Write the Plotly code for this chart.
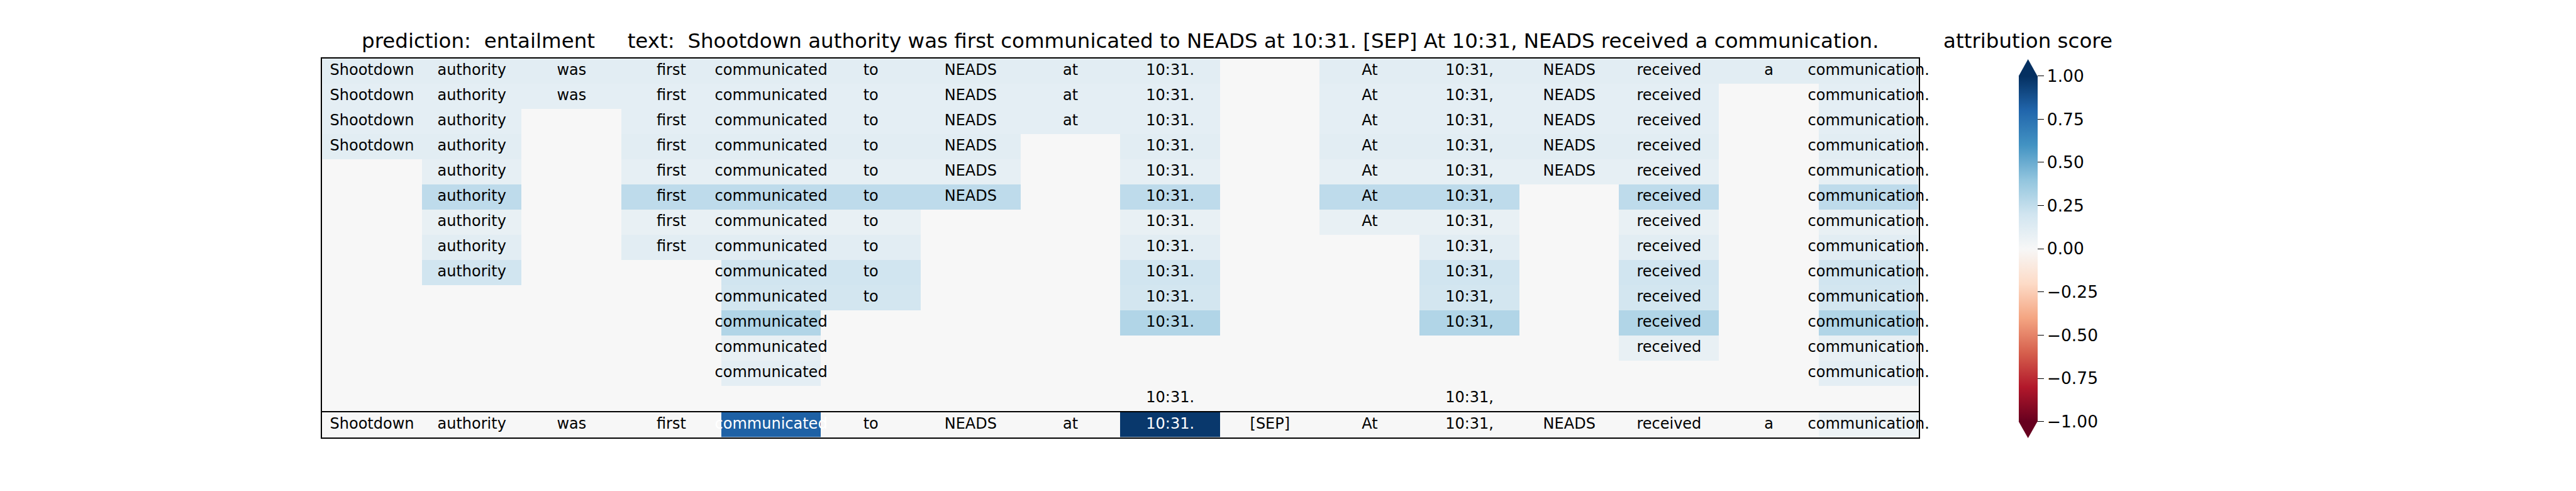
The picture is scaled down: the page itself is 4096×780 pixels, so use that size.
import plotly.graph_objects as go
from plotly.colors import diverging

# ---------------- data ----------------
tokens = ["Shootdown", "authority", "was", "first", "communicated", "to", "NEADS", "at",
          "10:31.", "[SEP]", "At", "10:31,", "NEADS", "received", "a", "communication."]

# tokens kept in each perturbation row (indices into tokens)
row_tokens = [
    [0, 1, 2, 3, 4, 5, 6, 7, 8, 10, 11, 12, 13, 14, 15],
    [0, 1, 2, 3, 4, 5, 6, 7, 8, 10, 11, 12, 13, 15],
    [0, 1, 3, 4, 5, 6, 7, 8, 10, 11, 12, 13, 15],
    [0, 1, 3, 4, 5, 6, 8, 10, 11, 12, 13, 15],
    [1, 3, 4, 5, 6, 8, 10, 11, 12, 13, 15],
    [1, 3, 4, 5, 6, 8, 10, 11, 13, 15],
    [1, 3, 4, 5, 8, 10, 11, 13, 15],
    [1, 3, 4, 5, 8, 11, 13, 15],
    [1, 4, 5, 8, 11, 13, 15],
    [4, 5, 8, 11, 13, 15],
    [4, 8, 11, 13, 15],
    [4, 13, 15],
    [4, 15],
    [8, 11],
]
row_scores = [0.11, 0.10, 0.10, 0.11, 0.09, 0.26, 0.08, 0.11, 0.20, 0.19, 0.30, 0.08, 0.10, 0.0]

token_scores = [0.0, 0.0, 0.0, 0.0, 0.82, 0.0, 0.0, 0.0, 0.97, 0.0, 0.0, 0.0, 0.0, 0.0, 0.0, 0.06]

prediction = "entailment"
cbar_ticks = [1.0, 0.75, 0.5, 0.25, 0.0, -0.25, -0.5, -0.75, -1.0]

# ---------------- layout geometry (output px) ----------------
W, H = 4096, 780
LEFT, RIGHT = 512.2, 3050.5
TOP_T, TOP_B = 93.3, 652.9
BOT_T, BOT_B = 654.6, 694.5
CB_L, CB_W = 3209.7, 30.0
CB_T, CB_B = 120.9, 669.5
CB_TIP_T, CB_TIP_B = 94.0, 696.0

FONT = "DejaVu Sans"
CELL_FS = 24
TICK_FS = 26.5
TITLE_FS = 32.5

def fx(x):
    return x / W

def fy(y):
    return 1 - y / H

cscale = diverging.RdBu
nrows = len(row_tokens)
ncols = len(tokens)

z_top = []
for r, keep in enumerate(row_tokens):
    z_top.append([row_scores[r] if c in keep else 0.0 for c in range(ncols)])

fig = go.Figure()

fig.add_trace(go.Heatmap(
    z=z_top, x=list(range(ncols)), y=list(range(nrows)),
    colorscale=cscale, zmin=-1, zmax=1, xaxis="x", yaxis="y",
    showscale=True, hoverinfo="skip",
    colorbar=dict(
        x=fx(CB_L), xanchor="left", xpad=0, ypad=0,
        y=fy((CB_T + CB_B) / 2), yanchor="middle",
        len=(CB_B - CB_T) / H, lenmode="fraction",
        thickness=CB_W, thicknessmode="pixels",
        outlinewidth=0,
        tickvals=cbar_ticks,
        ticktext=[("\u2212" if v < 0 else "") + f"{abs(v):.2f}" for v in cbar_ticks],
        ticks="outside", ticklen=10, tickwidth=1.3, tickcolor="black",
        tickfont=dict(family=FONT, size=TICK_FS, color="black"),
    ),
))

fig.add_trace(go.Heatmap(
    z=[token_scores], x=list(range(ncols)), y=[0],
    colorscale=cscale, zmin=-1, zmax=1, xaxis="x2", yaxis="y2",
    showscale=False, hoverinfo="skip",
))

# cell texts
tx, ty, tt = [], [], []
for r, keep in enumerate(row_tokens):
    for c in keep:
        tx.append(c)
        ty.append(r)
        tt.append(tokens[c])
fig.add_trace(go.Scatter(
    x=tx, y=ty, text=tt, mode="text", textposition="middle center",
    textfont=dict(family=FONT, size=CELL_FS, color="black"),
    xaxis="x", yaxis="y", cliponaxis=False, hoverinfo="skip", showlegend=False,
))
fig.add_trace(go.Scatter(
    x=list(range(ncols)), y=[0] * ncols, text=tokens, mode="text",
    textposition="middle center",
    textfont=dict(family=FONT, size=CELL_FS,
                  color=["white" if abs(v) > 0.5 else "black" for v in token_scores]),
    xaxis="x2", yaxis="y2", cliponaxis=False, hoverinfo="skip", showlegend=False,
))

axis_common = dict(showticklabels=False, ticks="", showgrid=False, zeroline=False,
                   showline=True, mirror=True, linecolor="black", linewidth=2)

fig.update_layout(
    width=W, height=H,
    margin=dict(l=0, r=0, t=0, b=0),
    paper_bgcolor="white", plot_bgcolor="white",
    showlegend=False,
    xaxis=dict(domain=[fx(LEFT), fx(RIGHT)], range=[-0.5, ncols - 0.5], anchor="y", **axis_common),
    yaxis=dict(domain=[fy(TOP_B), fy(TOP_T)], range=[nrows - 0.5, -0.5], anchor="x", **axis_common),
    xaxis2=dict(domain=[fx(LEFT), fx(RIGHT)], range=[-0.5, ncols - 0.5], anchor="y2", **axis_common),
    yaxis2=dict(domain=[fy(BOT_B), fy(BOT_T)], range=[0.5, -0.5], anchor="x2", **axis_common),
)

# colorbar extension triangles
top_col = cscale[-1]
bot_col = cscale[0]
cx = CB_L + CB_W / 2
fig.add_shape(type="path", xref="paper", yref="paper",
              path=f"M {fx(CB_L)} {fy(CB_T)} L {fx(CB_L + CB_W)} {fy(CB_T)} L {fx(cx)} {fy(CB_TIP_T)} Z",
              fillcolor=top_col, line=dict(width=0))
fig.add_shape(type="path", xref="paper", yref="paper",
              path=f"M {fx(CB_L)} {fy(CB_B)} L {fx(CB_L + CB_W)} {fy(CB_B)} L {fx(cx)} {fy(CB_TIP_B)} Z",
              fillcolor=bot_col, line=dict(width=0))

sp = "\u00a0"
title_text = ("prediction:" + sp * 2 + prediction + sp * 5 + "text:" + sp * 2 +
              " ".join(tokens))
fig.add_annotation(text=title_text, xref="paper", yref="paper",
                   x=fx((LEFT + RIGHT) / 2), y=fy(65), xanchor="center", yanchor="middle",
                   showarrow=False, font=dict(family=FONT, size=TITLE_FS, color="black"))
fig.add_annotation(text="attribution score", xref="paper", yref="paper",
                   x=fx(cx), y=fy(65), xanchor="center", yanchor="middle",
                   showarrow=False, font=dict(family=FONT, size=TITLE_FS, color="black"))

fig.write_html("out.html",
               config={"displayModeBar": False},
               post_script="document.body.style.margin='0px';document.body.style.overflow='hidden';")
